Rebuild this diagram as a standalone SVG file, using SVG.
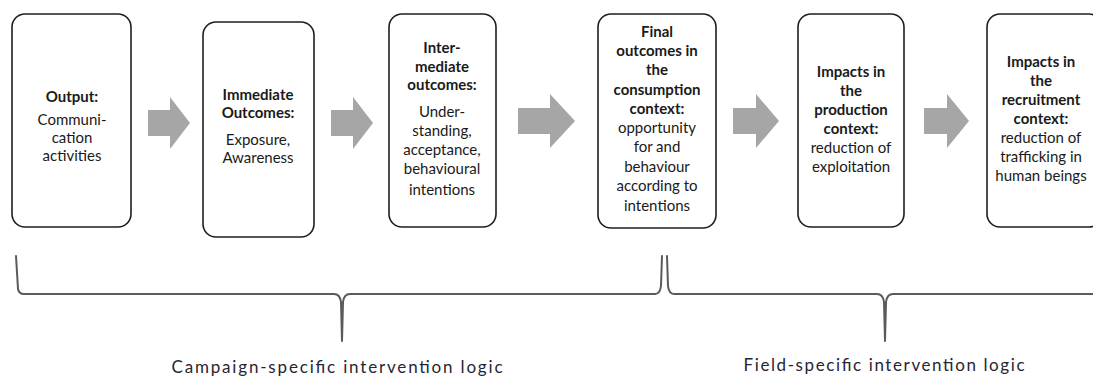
<svg xmlns="http://www.w3.org/2000/svg" width="1093" height="378" viewBox="0 0 1093 378">
  <style>
    .box { fill: #ffffff; stroke: #1e1e1e; stroke-width: 1.6; }
    .arrow { fill: #a6a6a6; }
    .t { font-family: Lato, "Open Sans", "Liberation Sans", sans-serif; font-size: 15px; fill: #1a1a1a; text-anchor: middle; }
    .h { font-weight: 700; }
    .brace { fill: none; stroke: #5a5a5a; stroke-width: 2; stroke-linecap: round; stroke-linejoin: round; }
    .lbl { font-family: Lato, "Open Sans", "Liberation Sans", sans-serif; font-size: 17px; fill: #262633; text-anchor: middle; }
  </style>
  <rect width="1093" height="378" fill="#ffffff"/>

  <!-- flow arrows between stages -->
  <g id="connectors">
    <polygon class="arrow" points="148,110 170,110 170,97 190,123 170,149 170,136 148,136"/>
    <polygon class="arrow" points="331,110 353,110 353,97 373,123 353,149 353,136 331,136"/>
    <polygon class="arrow" points="518,108 550,108 550,94 575,121 550,148 550,134 518,134"/>
    <polygon class="arrow" points="733,108 756,108 756,94 779,121 756,148 756,134 733,134"/>
    <polygon class="arrow" points="924,108 947,108 947,94 969,121 947,148 947,134 924,134"/>
  </g>

  <g id="output">
    <rect class="box" x="12" y="14" width="119" height="213" rx="13"/>
    <text class="t h" x="72" y="102">Output:</text>
    <text class="t" x="72" y="125">Communi-</text>
    <text class="t" x="72" y="143">cation</text>
    <text class="t" x="72" y="161">activities</text>
  </g>

  <g id="immediate">
    <rect class="box" x="203" y="22" width="111" height="215" rx="13"/>
    <text class="t h" x="258" y="100">Immediate</text>
    <text class="t h" x="258" y="118">Outcomes:</text>
    <text class="t" x="258" y="145">Exposure,</text>
    <text class="t" x="258" y="163">Awareness</text>
  </g>

  <g id="intermediate">
    <rect class="box" x="389" y="14" width="107" height="213" rx="13"/>
    <text class="t h" x="442" y="53">Inter-</text>
    <text class="t h" x="442" y="72">mediate</text>
    <text class="t h" x="442" y="90">outcomes:</text>
    <text class="t" x="442" y="117">Under-</text>
    <text class="t" x="442" y="136">standing,</text>
    <text class="t" x="442" y="155">acceptance,</text>
    <text class="t" x="442" y="174">behavioural</text>
    <text class="t" x="442" y="195">intentions</text>
  </g>

  <g id="final">
    <rect class="box" x="598" y="14" width="118" height="214" rx="13"/>
    <text class="t h" x="657" y="37">Final</text>
    <text class="t h" x="657" y="56">outcomes in</text>
    <text class="t h" x="657" y="75">the</text>
    <text class="t h" x="657" y="95">consumption</text>
    <text class="t h" x="657" y="114">context:</text>
    <text class="t" x="657" y="133">opportunity</text>
    <text class="t" x="657" y="152">for and</text>
    <text class="t" x="657" y="172">behaviour</text>
    <text class="t" x="657" y="191">according to</text>
    <text class="t" x="657" y="211">intentions</text>
  </g>

  <g id="production">
    <rect class="box" x="798" y="14" width="106" height="213" rx="13"/>
    <text class="t h" x="851" y="77">Impacts in</text>
    <text class="t h" x="851" y="96">the</text>
    <text class="t h" x="851" y="115">production</text>
    <text class="t h" x="851" y="134">context:</text>
    <text class="t" x="851" y="153">reduction of</text>
    <text class="t" x="851" y="172">exploitation</text>
  </g>

  <g id="recruitment">
    <rect class="box" x="987" y="14" width="115" height="213" rx="13"/>
    <text class="t h" x="1041" y="67">Impacts in</text>
    <text class="t h" x="1041" y="86">the</text>
    <text class="t h" x="1041" y="105">recruitment</text>
    <text class="t h" x="1041" y="124">context:</text>
    <text class="t" x="1041" y="143">reduction of</text>
    <text class="t" x="1041" y="162">trafficking in</text>
    <text class="t" x="1041" y="181">human beings</text>
  </g>

  <!-- braces grouping the stages -->
  <g id="braces">
    <path class="brace" d="M16,256 L18,289 Q19,294 24,294 L334,294 Q340,294 341,302 L342,341 M342,341 L343,302 Q344,294 350,294 L655,294 Q660,294 661,286 L662,256 M667,256 L668,286 Q669,294 674,294 L877,294 Q883,294 884,302 L885,341 M885,341 L886,302 Q887,294 893,294 L1095,294"/>
    <text class="lbl" x="337" y="373" textLength="331" lengthAdjust="spacing">Campaign-specific intervention logic</text>
    <text class="lbl" x="884" y="371" textLength="281" lengthAdjust="spacing">Field-specific intervention logic</text>
  </g>
</svg>
